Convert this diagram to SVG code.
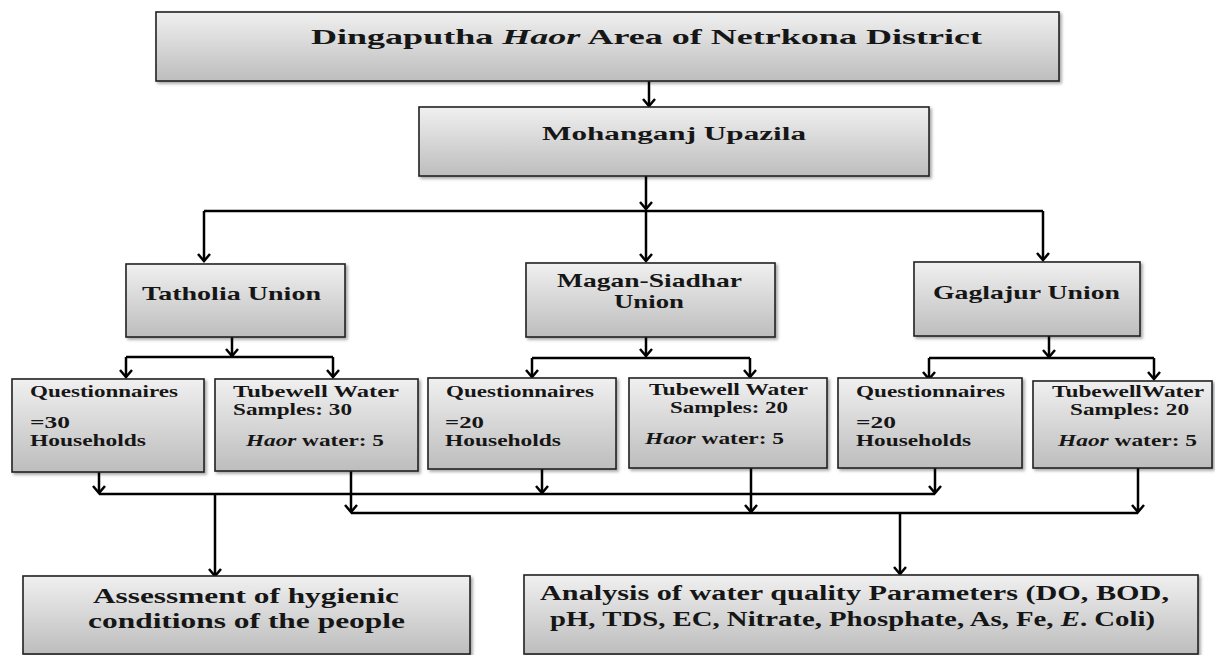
<svg xmlns="http://www.w3.org/2000/svg" width="1215" height="655" viewBox="0 0 1215 655">
<defs>
<linearGradient id="g" x1="0" y1="0" x2="0" y2="1">
<stop offset="0" stop-color="#f0f0f0"/>
<stop offset="1" stop-color="#bdbdbd"/>
</linearGradient>
<filter id="sh" x="-5%" y="-5%" width="115%" height="125%">
<feDropShadow dx="2" dy="2" stdDeviation="1.5" flood-color="#000" flood-opacity="0.35"/>
</filter>
<marker id="ah" markerUnits="userSpaceOnUse" viewBox="-8 -7 10 14" refX="0" refY="0" markerWidth="10" markerHeight="14" orient="auto">
<path d="M-7,-6 L0,0 L-7,6" fill="none" stroke="#000" stroke-width="2.5"/>
</marker>
<style>
.box{fill:url(#g);stroke:#222;stroke-width:1.6;filter:url(#sh)}
.t{font-family:"Liberation Serif","Times New Roman",serif;font-weight:bold;fill:#161616}
.s{font-size:16px}
.c{fill:none;stroke:#000;stroke-width:2.5}
.a{fill:none;stroke:#000;stroke-width:2.5;marker-end:url(#ah)}
</style>
</defs>

<g id="connectors">
<path class="a" d="M649,81 V106"/>
<path class="a" d="M646,176 V209"/>
<path class="c" d="M204,211 H1043"/>
<path class="a" d="M646,211 V261"/>
<path class="a" d="M204,211 V261"/>
<path class="a" d="M1043,211 V260"/>
<path class="a" d="M232,337 V356"/>
<path class="c" d="M126,357 H333"/>
<path class="a" d="M126,357 V377"/>
<path class="a" d="M333,357 V377"/>
<path class="a" d="M646,337 V356"/>
<path class="c" d="M532,358 H750"/>
<path class="a" d="M532,358 V377"/>
<path class="a" d="M750,358 V377"/>
<path class="a" d="M1049,336 V357"/>
<path class="c" d="M929,358 H1154"/>
<path class="a" d="M929,358 V379"/>
<path class="a" d="M1154,358 V379"/>
<path class="a" d="M99,472 V493"/>
<path class="a" d="M542,468 V493"/>
<path class="a" d="M935,468 V493"/>
<path class="c" d="M99,494 H935"/>
<path class="a" d="M215,494 V576"/>
<path class="a" d="M351,471 V512"/>
<path class="a" d="M751,468 V512"/>
<path class="a" d="M1138,468 V512"/>
<path class="c" d="M351,513 H1138"/>
<path class="a" d="M900,513 V574"/>
</g>

<g id="district">
<rect class="box" x="156" y="12" width="903" height="69"/>
<text class="t" x="311" y="44" font-size="22" textLength="671" lengthAdjust="spacingAndGlyphs">Dingaputha <tspan font-style="italic">Haor</tspan> Area of Netrkona District</text>
</g>

<g id="upazila">
<rect class="box" x="419" y="107" width="510" height="69"/>
<text class="t" x="542" y="140" font-size="18" textLength="264" lengthAdjust="spacingAndGlyphs">Mohanganj Upazila</text>
</g>

<g id="tatholia">
<rect class="box" x="126" y="264" width="219" height="73"/>
<text class="t" x="142" y="300" font-size="19" textLength="179" lengthAdjust="spacingAndGlyphs">Tatholia Union</text>
</g>

<g id="magan">
<rect class="box" x="526" y="263" width="249" height="74"/>
<text class="t" x="557" y="287" font-size="19" textLength="185" lengthAdjust="spacingAndGlyphs">Magan-Siadhar</text>
<text class="t" x="614" y="308" font-size="19" textLength="70" lengthAdjust="spacingAndGlyphs">Union</text>
</g>

<g id="gaglajur">
<rect class="box" x="914" y="262" width="226" height="74"/>
<text class="t" x="933" y="299" font-size="19" textLength="187" lengthAdjust="spacingAndGlyphs">Gaglajur Union</text>
</g>

<g id="q-tatholia">
<rect class="box" x="12" y="379" width="192" height="93"/>
<text class="t s" x="30" y="397" textLength="148" lengthAdjust="spacingAndGlyphs">Questionnaires</text>
<text class="t s" x="30" y="428" textLength="40" lengthAdjust="spacingAndGlyphs">=30</text>
<text class="t s" x="30" y="446" textLength="116" lengthAdjust="spacingAndGlyphs">Households</text>
</g>

<g id="w-tatholia">
<rect class="box" x="215" y="379" width="203" height="92"/>
<text class="t s" x="233" y="397" textLength="166" lengthAdjust="spacingAndGlyphs">Tubewell  Water</text>
<text class="t s" x="233" y="415" textLength="119" lengthAdjust="spacingAndGlyphs">Samples: 30</text>
<text class="t s" x="246" y="446" textLength="138" lengthAdjust="spacingAndGlyphs"><tspan font-style="italic">Haor</tspan> water: 5</text>
</g>

<g id="q-magan">
<rect class="box" x="428" y="378" width="188" height="91"/>
<text class="t s" x="446" y="397" textLength="148" lengthAdjust="spacingAndGlyphs">Questionnaires</text>
<text class="t s" x="445" y="428" textLength="39" lengthAdjust="spacingAndGlyphs">=20</text>
<text class="t s" x="445" y="446" textLength="116" lengthAdjust="spacingAndGlyphs">Households</text>
</g>

<g id="w-magan">
<rect class="box" x="629" y="378" width="198" height="90"/>
<text class="t s" x="649" y="395" textLength="159" lengthAdjust="spacingAndGlyphs">Tubewell Water</text>
<text class="t s" x="670" y="413" textLength="118" lengthAdjust="spacingAndGlyphs">Samples: 20</text>
<text class="t s" x="645" y="444" textLength="139" lengthAdjust="spacingAndGlyphs"><tspan font-style="italic">Haor</tspan> water: 5</text>
</g>

<g id="q-gaglajur">
<rect class="box" x="838" y="378" width="184" height="90"/>
<text class="t s" x="856" y="397" textLength="149" lengthAdjust="spacingAndGlyphs">Questionnaires</text>
<text class="t s" x="856" y="428" textLength="40" lengthAdjust="spacingAndGlyphs">=20</text>
<text class="t s" x="856" y="446" textLength="115" lengthAdjust="spacingAndGlyphs">Households</text>
</g>

<g id="w-gaglajur">
<rect class="box" x="1033" y="381" width="179" height="87"/>
<text class="t s" x="1052" y="397" textLength="152" lengthAdjust="spacingAndGlyphs">TubewellWater</text>
<text class="t s" x="1070" y="415" textLength="119" lengthAdjust="spacingAndGlyphs">Samples: 20</text>
<text class="t s" x="1058" y="446" textLength="139" lengthAdjust="spacingAndGlyphs"><tspan font-style="italic">Haor</tspan> water: 5</text>
</g>

<g id="assessment">
<rect class="box" x="23" y="576" width="447" height="78"/>
<text class="t" x="93" y="603" font-size="20" textLength="306" lengthAdjust="spacingAndGlyphs">Assessment of hygienic</text>
<text class="t" x="88" y="628" font-size="20" textLength="317" lengthAdjust="spacingAndGlyphs">conditions of the people</text>
</g>

<g id="analysis">
<rect class="box" x="524" y="575" width="674" height="79"/>
<text class="t" x="540" y="600" font-size="20" textLength="629" lengthAdjust="spacingAndGlyphs">Analysis of water quality Parameters (DO, BOD,</text>
<text class="t" x="550" y="626" font-size="20" textLength="605" lengthAdjust="spacingAndGlyphs">pH, TDS, EC, Nitrate, Phosphate, As, Fe, <tspan font-style="italic">E</tspan>. Coli)</text>
</g>
</svg>
